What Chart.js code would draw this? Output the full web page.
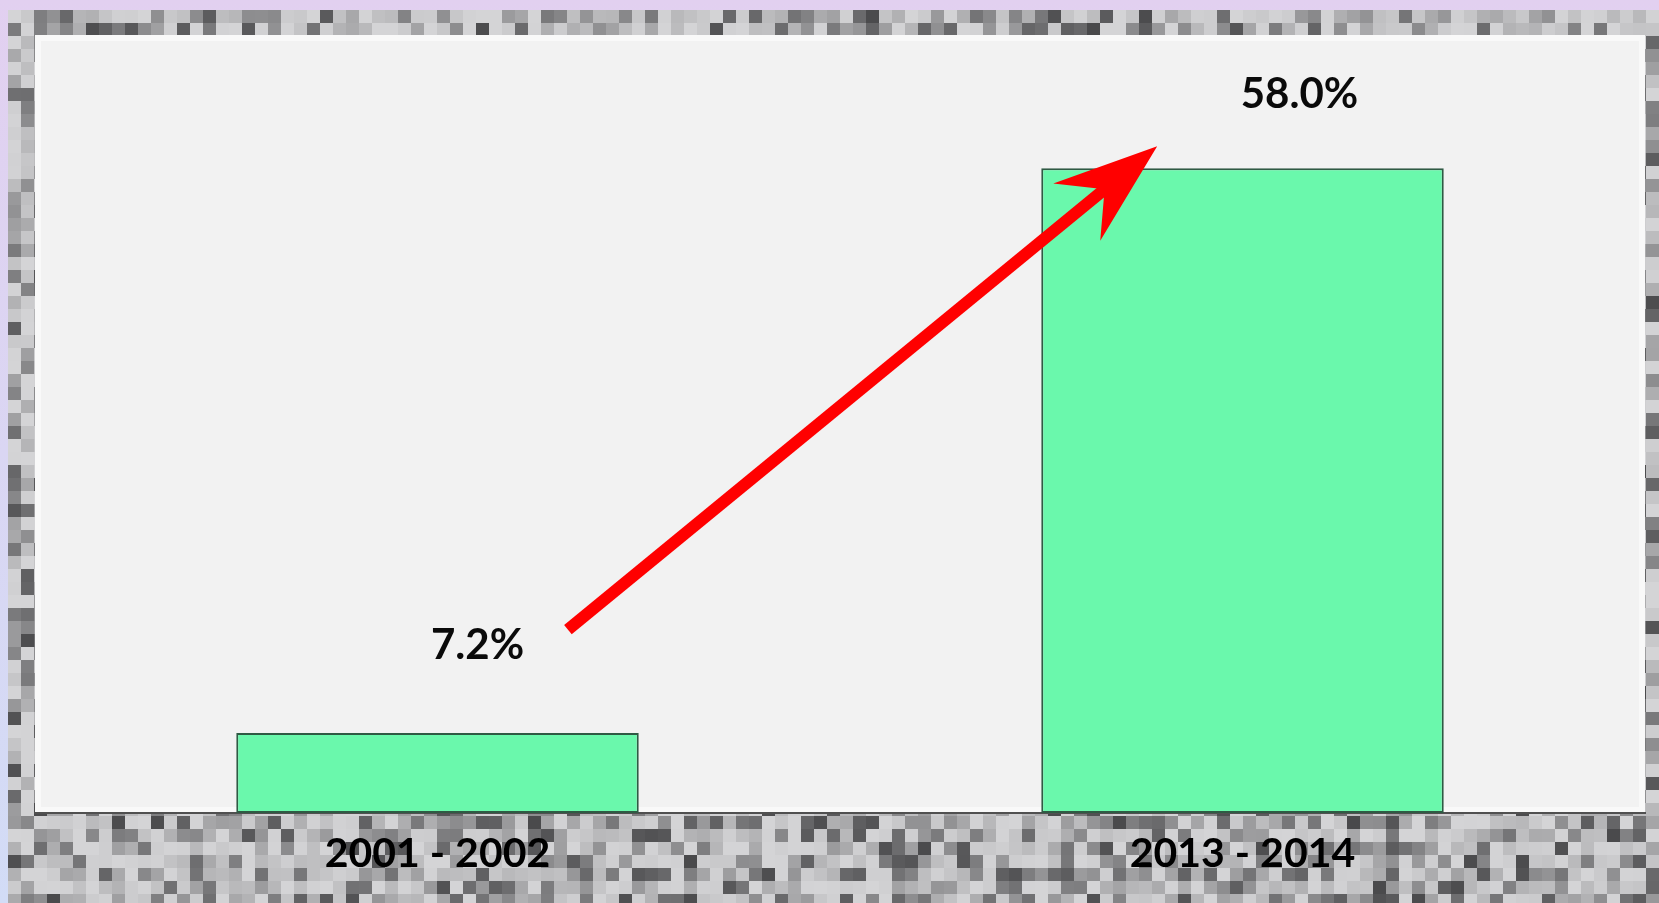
<!DOCTYPE html>
<html>
<head>
<meta charset="utf-8">
<script src="https://cdn.jsdelivr.net/npm/chart.js@4.4.1/dist/chart.umd.min.js"></script>
<style>
html,body{margin:0;padding:0;background:#e2d4f2;overflow:hidden;}
#wrap{position:relative;width:1659px;height:903px;}
canvas{display:block;}
</style>
</head>
<body>
<div id="wrap"><canvas id="c" width="1659" height="903"></canvas></div>
<script>
// ---- data ----
const categories = ['2001 - 2002', '2013 - 2014'];
const values = [7.2, 58.0];
const yMax = 70;

// deterministic texture hash (decoration only)
function hash(i, j) {
  const s = Math.sin(i * 127.1 + j * 311.7) * 43758.5453;
  return s - Math.floor(s);
}

const frame = {
  id: 'frame',
  beforeDraw(chart) {
    const ctx = chart.ctx;
    const W = chart.width, H = chart.height;
    const a = chart.chartArea;
    ctx.save();
    const lg = ctx.createLinearGradient(0, 0, 0, H);
    lg.addColorStop(0, '#e2d0f0');
    lg.addColorStop(1, '#d2dcf6');
    ctx.fillStyle = lg;
    ctx.fillRect(0, 0, W, H);
    const x0 = 8, y0 = 10, bs = 13;
    for (let y = y0, j = 0; y < H; y += bs, j++) {
      for (let x = x0, i = 0; x < W; x += bs, i++) {
        const h = hash(i, j);
        const g = Math.round(212 - 140 * Math.pow(h, 2.3));
        ctx.fillStyle = `rgb(${g},${g},${g + 2})`;
        ctx.fillRect(x, y, bs, bs);
      }
    }
    ctx.fillStyle = '#f2f2f2';
    ctx.fillRect(a.left, a.top, a.right - a.left, a.bottom - a.top);
    ctx.strokeStyle = 'rgba(250,250,250,0.8)';
    ctx.lineWidth = 6;
    ctx.strokeRect(a.left + 3, a.top + 3, a.right - a.left - 6, a.bottom - a.top - 6);
    ctx.restore();
  }
};

const valueLabels = {
  id: 'valueLabels',
  afterDatasetsDraw(chart, args, opts) {
    const ctx = chart.ctx;
    const meta = chart.getDatasetMeta(0);
    ctx.save();
    ctx.font = 'bold 42px Lato, "Open Sans", sans-serif';
    ctx.fillStyle = '#0a0a0a';
    ctx.textAlign = 'center';
    ctx.textBaseline = 'middle';
    meta.data.forEach((bar, i) => {
      const off = opts.offsets[i];
      ctx.fillText(values[i].toFixed(1) + '%', bar.x + off[0], bar.y + off[1]);
    });
    ctx.restore();
  }
};

const arrow = {
  id: 'arrow',
  afterDatasetsDraw(chart, args, opts) {
    const xs = chart.scales.x, ys = chart.scales.y;
    const tx = xs.getPixelForValue(opts.from[0]), ty = ys.getPixelForValue(opts.from[1]);
    const hx = xs.getPixelForValue(opts.to[0]), hy = ys.getPixelForValue(opts.to[1]);
    const ang = Math.atan2(hy - ty, hx - tx);
    const ctx = chart.ctx;
    ctx.save();
    ctx.strokeStyle = '#ff0000';
    ctx.fillStyle = '#ff0000';
    ctx.lineWidth = 12;
    ctx.lineCap = 'butt';
    const headLen = 104, notch = 68, half = 37;
    const nx = hx - Math.cos(ang) * notch, ny = hy - Math.sin(ang) * notch;
    ctx.beginPath();
    ctx.moveTo(tx, ty);
    ctx.lineTo(nx + Math.cos(ang) * 5, ny + Math.sin(ang) * 5);
    ctx.stroke();
    const bx = hx - Math.cos(ang) * headLen, by = hy - Math.sin(ang) * headLen;
    const px = -Math.sin(ang), py = Math.cos(ang);
    ctx.beginPath();
    ctx.moveTo(hx, hy);
    ctx.lineTo(bx + px * half, by + py * half);
    ctx.lineTo(nx, ny);
    ctx.lineTo(bx - px * half, by - py * half);
    ctx.closePath();
    ctx.fill();
    ctx.restore();
  }
};

new Chart(document.getElementById('c'), {
  type: 'bar',
  data: {
    labels: categories,
    datasets: [{
      data: values,
      backgroundColor: '#6af8ac',
      borderColor: '#2f5a44',
      borderWidth: 2,
      borderSkipped: false,
      categoryPercentage: 1.0,
      barPercentage: 0.5
    }]
  },
  options: {
    responsive: false,
    animation: false,
    devicePixelRatio: 1,
    layout: { padding: { top: 35, left: 35, right: 14, bottom: 0 } },
    plugins: {
      legend: { display: false },
      tooltip: { enabled: false },
      valueLabels: { offsets: [[40, -88], [57, -74]] },
      arrow: { from: [0.162, 16.5], to: [0.894, 60.0] }
    },
    scales: {
      x: {
        grid: { display: false, drawTicks: false },
        border: { display: true, color: '#505050', width: 2 },
        ticks: {
          color: '#000000',
          font: { family: 'Lato, "Open Sans", sans-serif', size: 41, weight: 'bold' },
          padding: 16
        },
        afterFit(s) { s.height = 90; }
      },
      y: {
        display: false,
        min: 0,
        max: yMax
      }
    }
  },
  plugins: [frame, valueLabels, arrow]
});
</script>
</body>
</html>
